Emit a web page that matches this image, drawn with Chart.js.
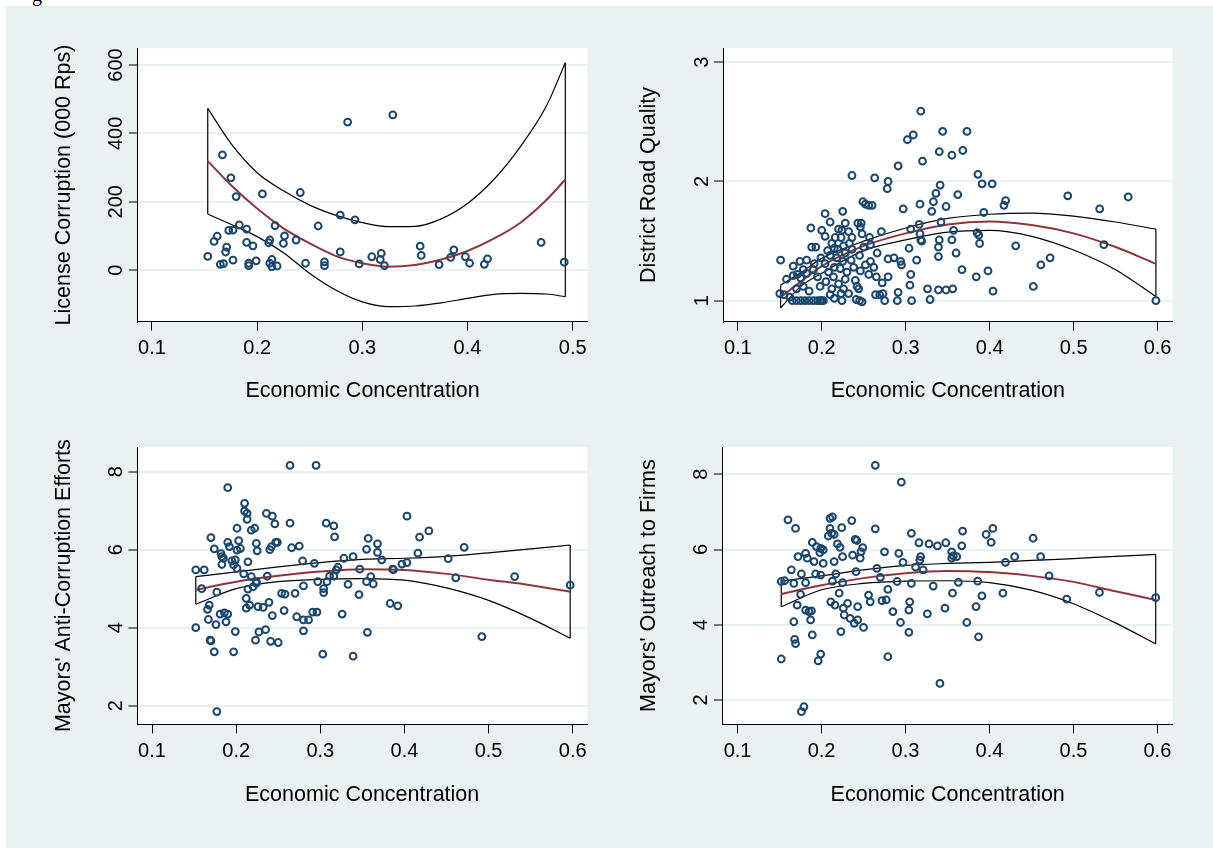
<!DOCTYPE html>
<html>
<head>
<meta charset="utf-8">
<script src="https://cdn.jsdelivr.net/npm/chart.js@4.4.1/dist/chart.umd.min.js"></script>
<style>
  body { margin: 0; background: #fff; width: 1213px; height: 848px; overflow: hidden; position: relative; }
  #bg { position: absolute; left: 6px; top: 6px; right: 0; bottom: 0; background: #eaf1f3; }
  #cap { position: absolute; left: 32px; top: -16px; font: 20px/20px "Liberation Serif", serif; color: #000; }
  canvas { position: absolute; }
</style>
</head>
<body>
<div id="bg"></div>
<div id="cap">g</div>
<canvas id="c1" width="600" height="424" style="left:0;top:0"></canvas>
<canvas id="c2" width="613" height="424" style="left:600px;top:0"></canvas>
<canvas id="c3" width="600" height="424" style="left:0;top:424px"></canvas>
<canvas id="c4" width="613" height="424" style="left:600px;top:424px"></canvas>
<script>
// ---- data ----
const licX = [0.167,0.175,0.180,0.205,0.241,0.286,0.329,0.279,0.293,0.258,0.217,0.183,0.190,0.173,0.177,0.162,0.159,0.171,0.170,0.153,
  0.165,0.168,0.177,0.190,0.196,0.192,0.192,0.199,0.211,0.212,0.226,0.225,0.237,0.214,0.212,0.214,0.219,0.246,0.264,0.264,
  0.279,0.297,0.309,0.318,0.317,0.321,0.355,0.356,0.373,0.384,0.387,0.398,0.402,0.416,0.419,0.470,0.492];
const licY = [337,270,215,223,227,433,454,161,147,129,130,132,120,116,117,99,84,67,53,40,
  17,19,29,81,71,20,13,27,80,88,100,78,88,31,20,10,12,20,24,13,
  53,18,39,49,31,13,70,43,16,37,59,39,20,17,33,81,23];
const licGridX = [0.153,0.175,0.2,0.225,0.25,0.275,0.3,0.325,0.35,0.375,0.4,0.425,0.45,0.475,0.493];
const licFit = [319,249,180,122,78,41,20,10,15,31,56,92,138,205,265];
const licHi = [473,371,285,232,190,160,139,127,128,150,195,265,360,480,607];
const licLo = [164,134,98,51,-10,-59,-93,-107,-105,-96,-83,-71,-68,-70,-78];

const roadX = [0.318,0.302,0.309,0.344,0.373,0.340,0.355,0.368,0.320,0.291,0.236,0.263,0.279,0.278,0.386,0.391,0.403,0.341,0.336,0.362,
  0.493,0.565,0.419,0.417,0.333,0.348,0.317,0.331,0.297,0.393,0.531,0.249,0.252,0.256,0.260,0.204,0.225,0.210,0.228,0.243,
  0.247,0.187,0.200,0.204,0.220,0.224,0.271,0.316,0.306,0.342,0.357,0.385,0.387,0.317,0.318,0.319,0.340,0.355,0.388,0.431,
  0.536,0.339,0.339,0.304,0.360,0.313,0.279,0.286,0.294,0.295,0.266,0.472,0.461,0.367,0.398,0.384,0.306,0.305,0.326,0.339,
  0.348,0.356,0.452,0.404,0.291,0.329,0.307,0.290,0.275,0.598,0.256,0.265,0.272,0.279,0.264,0.269,0.241,0.245,0.248,0.224,
  0.215,0.223,0.240,0.242,0.244,0.151,0.150,0.158,0.166,0.171,0.174,0.182,0.188,0.193,0.199,0.191,0.165,0.170,0.175,0.180,
  0.185,0.190,0.195,0.198,0.200,0.202,0.246,0.223,0.232,0.236,0.248,0.257,0.216,0.212,0.215,0.219,0.233,0.258,0.204,0.166,
  0.175,0.182,0.190,0.155,0.162,0.198,0.212,0.226,0.232,0.273,0.210,0.218,0.228,0.235,0.245,0.252,0.222,0.230,0.246,0.214,
  0.228,0.205,0.220,0.210,0.185,0.178,0.195,0.258,0.262,0.236,0.250,0.226,0.207,0.178,0.170,0.208,0.238,0.225,0.215];
const roadY = [2.59,2.35,2.39,2.42,2.42,2.25,2.22,2.26,2.17,2.13,2.05,2.03,2.00,1.94,2.06,1.98,1.98,1.97,1.90,1.89,
  1.88,1.87,1.84,1.80,1.83,1.79,1.81,1.75,1.77,1.74,1.77,1.83,1.81,1.80,1.80,1.73,1.75,1.66,1.65,1.65,
  1.65,1.61,1.59,1.54,1.60,1.59,1.58,1.64,1.60,1.66,1.59,1.57,1.55,1.56,1.51,1.50,1.51,1.51,1.48,1.46,
  1.47,1.45,1.37,1.44,1.40,1.34,1.35,1.36,1.33,1.30,1.40,1.36,1.30,1.26,1.25,1.20,1.22,1.13,1.10,1.09,
  1.09,1.10,1.12,1.08,1.07,1.01,1.00,1.00,1.00,1.00,1.22,1.20,1.15,1.20,1.05,1.05,1.01,1.00,0.99,1.00,
  1.02,1.06,1.17,1.12,1.10,1.34,1.06,1.18,1.29,1.22,1.33,1.34,1.45,1.45,1.36,1.31,1.00,1.00,1.00,1.00,
  1.00,1.00,1.00,1.00,1.00,1.00,1.62,1.53,1.58,1.53,1.56,1.53,1.53,1.48,1.44,1.43,1.48,1.47,1.31,1.21,
  1.19,1.23,1.26,1.05,1.03,1.12,1.10,1.10,1.06,1.06,1.38,1.36,1.40,1.34,1.38,1.30,1.27,1.24,1.25,1.20,
  1.18,1.16,1.14,1.05,1.08,1.12,1.20,1.33,1.28,1.43,1.45,1.46,1.42,1.26,1.10,1.24,1.28,1.33,1.28];
const roadGridX = [0.151,0.175,0.2,0.25,0.3,0.35,0.4,0.45,0.5,0.55,0.598];
const roadFit = [1.03,1.16,1.29,1.46,1.565,1.64,1.665,1.635,1.565,1.45,1.31];
const roadHi = [1.13,1.235,1.355,1.50,1.61,1.69,1.725,1.735,1.71,1.66,1.60];
const roadLo = [0.94,1.12,1.23,1.42,1.51,1.575,1.59,1.54,1.425,1.26,1.035];

const antiX = [0.264,0.295,0.190,0.210,0.210,0.213,0.213,0.236,0.243,0.246,0.264,0.307,0.201,0.218,0.222,0.170,0.190,0.203,0.174,0.192,
  0.201,0.205,0.224,0.225,0.240,0.242,0.247,0.249,0.266,0.275,0.182,0.183,0.183,0.185,0.195,0.199,0.197,0.201,0.214,0.279,
  0.293,0.152,0.162,0.209,0.218,0.224,0.237,0.159,0.177,0.214,0.220,0.224,0.254,0.258,0.270,0.280,0.297,0.304,0.304,0.212,
  0.168,0.166,0.212,0.216,0.226,0.232,0.239,0.257,0.167,0.181,0.186,0.190,0.188,0.176,0.243,0.272,0.280,0.286,0.291,0.296,
  0.280,0.152,0.199,0.227,0.235,0.169,0.170,0.223,0.241,0.250,0.174,0.197,0.303,0.177,
  0.316,0.317,0.403,0.418,0.429,0.357,0.368,0.355,0.368,0.373,0.328,0.339,0.416,0.452,0.471,0.321,0.319,0.316,0.311,0.347,
  0.360,0.355,0.363,0.386,0.387,0.397,0.403,0.461,0.531,0.597,0.308,0.333,0.346,0.383,0.392,0.326,0.356,0.492,0.339];
const antiY = [8.16,8.16,7.59,7.19,6.99,6.93,6.78,6.93,6.86,6.66,6.68,6.68,6.55,6.50,6.55,6.31,6.19,6.23,6.02,6.08,
  5.99,6.03,6.16,5.97,6.00,6.08,6.19,6.19,6.05,6.09,5.90,5.82,5.62,5.78,5.71,5.74,5.61,5.52,5.69,5.71,
  5.65,5.48,5.48,5.38,5.31,5.18,5.32,5.00,4.91,4.99,5.05,5.14,4.88,4.86,4.88,5.07,5.18,5.00,4.90,4.75,
  4.58,4.47,4.50,4.58,4.54,4.52,4.65,4.44,4.21,4.35,4.38,4.35,4.15,4.08,4.31,4.28,4.20,4.20,4.40,4.40,
  3.92,4.00,3.90,3.89,3.95,3.68,3.66,3.68,3.65,3.62,3.38,3.38,3.32,1.85,
  6.61,6.33,6.86,6.32,6.48,6.29,6.15,6.01,5.93,5.74,5.78,5.82,5.91,5.77,6.06,5.55,5.48,5.32,5.32,5.50,
  5.31,5.18,5.12,5.50,5.49,5.63,5.67,5.28,5.31,5.09,5.18,5.11,4.85,4.62,4.56,4.35,3.88,3.77,3.27];
const antiGridX = [0.152,0.2,0.25,0.3,0.35,0.4,0.45,0.5,0.55,0.597];
const antiFit = [4.97,5.18,5.33,5.44,5.50,5.48,5.38,5.23,5.09,4.92];
const antiHi = [5.31,5.43,5.56,5.67,5.75,5.78,5.83,5.92,6.02,6.12];
const antiLo = [4.60,5.00,5.18,5.24,5.26,5.22,5.02,4.70,4.24,3.73];

const outX = [0.264,0.295,0.160,0.169,0.210,0.213,0.210,0.212,0.208,0.215,0.224,0.236,0.264,0.307,0.189,0.194,0.199,0.202,0.198,0.219,
  0.222,0.240,0.242,0.249,0.247,0.246,0.275,0.292,0.172,0.181,0.183,0.191,0.202,0.225,0.237,0.215,0.297,0.164,0.176,0.193,
  0.199,0.217,0.241,0.266,0.152,0.156,0.167,0.181,0.213,0.225,0.270,0.290,0.307,0.175,0.221,0.256,0.258,0.279,0.277,0.272,
  0.171,0.211,0.216,0.231,0.243,0.305,0.304,0.181,0.185,0.188,0.187,0.226,0.227,0.234,0.239,0.243,0.250,0.285,0.294,0.304,
  0.167,0.189,0.168,0.169,0.223,0.199,0.196,0.152,0.279,0.179,0.176,
  0.316,0.328,0.338,0.348,0.368,0.367,0.396,0.404,0.402,0.452,0.355,0.357,0.361,0.355,0.318,0.317,0.312,0.321,0.419,0.430,
  0.461,0.471,0.333,0.363,0.386,0.356,0.391,0.416,0.492,0.531,0.598,0.326,0.347,0.384,0.373,0.387,0.341];
const outY = [8.24,7.79,6.79,6.56,6.83,6.87,6.56,6.43,6.36,6.40,6.58,6.77,6.55,6.43,6.19,6.08,6.03,5.99,5.92,6.15,
  6.06,6.27,6.24,6.05,5.94,5.77,5.94,5.90,5.81,5.90,5.77,5.68,5.63,5.81,5.85,5.68,5.66,5.46,5.35,5.35,
  5.32,5.35,5.41,5.50,5.15,5.17,5.10,5.12,5.16,5.12,5.26,5.15,5.10,4.81,4.84,4.79,4.61,4.94,4.66,4.64,
  4.52,4.61,4.52,4.57,4.48,4.61,4.39,4.39,4.35,4.37,4.13,4.44,4.26,4.17,4.04,4.13,3.93,4.35,4.06,3.80,
  4.08,3.73,3.61,3.50,3.82,3.22,3.04,3.09,3.15,1.82,1.69,
  6.18,6.15,6.10,6.18,6.49,6.10,6.40,6.56,6.19,6.30,5.94,5.83,5.81,5.77,5.81,5.72,5.53,5.46,5.66,5.81,
  5.81,5.30,5.03,5.13,5.16,4.84,4.77,4.84,4.68,4.86,4.72,4.29,4.44,4.48,4.06,3.68,2.44];
const outGridX = [0.152,0.2,0.25,0.3,0.35,0.4,0.45,0.5,0.55,0.598];
const outFit = [4.82,5.05,5.24,5.37,5.43,5.40,5.30,5.14,4.89,4.66];
const outHi = [5.16,5.30,5.46,5.58,5.63,5.66,5.71,5.76,5.82,5.87];
const outLo = [4.48,4.93,5.10,5.16,5.17,5.12,4.92,4.56,4.05,3.49];

const licXTicks = [0.1,0.2,0.3,0.4,0.5];
const wideXTicks = [0.1,0.2,0.3,0.4,0.5,0.6];
const licYTicks = [0,200,400,600];
const roadYTicks = [1,2,3];
const mayorYTicks = [2,4,6,8];

// ---- drawing ----
const FONT = '"Liberation Sans", Arial, sans-serif';
const NAVY = '#1a476f';
const MAROON = '#90353b';
const GRID = '#eaf1f3';

const plotBg = {
  id: 'plotBg',
  beforeDraw(chart) {
    const { ctx, chartArea: a } = chart;
    ctx.save();
    ctx.fillStyle = '#fff';
    ctx.fillRect(a.left, a.top, a.right - a.left, a.bottom - a.top);
    ctx.restore();
  }
};

function curve(xs, ys, color, width) {
  return {
    data: xs.map((x, i) => ({ x: x, y: ys[i] })),
    showLine: true, pointRadius: 0, borderColor: color, borderWidth: width,
    cubicInterpolationMode: 'monotone', fill: false, order: 1
  };
}

function panel(id, o) {
  const cv = document.getElementById(id);
  const W = cv.width, H = cv.height;
  const n = o.gx.length - 1;
  const edge = (i) => ({
    data: [{ x: o.gx[i], y: o.lo[i] }, { x: o.gx[i], y: o.hi[i] }],
    showLine: true, pointRadius: 0, borderColor: '#000', borderWidth: 1.2, order: 1
  });
  new Chart(cv, {
    type: 'scatter',
    data: {
      datasets: [
        { data: o.px.map((x, i) => ({ x: x, y: o.py[i] })), pointRadius: 3.4, borderWidth: 2,
          borderColor: NAVY, backgroundColor: 'rgba(0,0,0,0)', order: 0 },
        curve(o.gx, o.fit, MAROON, 2),
        curve(o.gx, o.hi, '#000', 1.2),
        curve(o.gx, o.lo, '#000', 1.2),
        edge(0),
        edge(n)
      ]
    },
    options: {
      responsive: false, animation: false, events: [], devicePixelRatio: 1,
      layout: { padding: { left: 0, top: o.area[1], right: W - o.area[2], bottom: 0 } },
      plugins: { legend: { display: false }, tooltip: { enabled: false } },
      scales: {
        x: {
          type: 'linear', min: o.xr[0], max: o.xr[1],
          afterBuildTicks: (s) => { s.ticks = o.xt.map(v => ({ value: v })); },
          afterFit: (s) => { s.height = H - o.area[3]; },
          ticks: { autoSkip: false, maxRotation: 0, padding: 6, color: '#000',
                   font: { size: 20, family: FONT }, callback: (v) => v.toFixed(1) },
          grid: { drawOnChartArea: false, tickLength: 9, tickColor: '#000', tickWidth: 1 },
          border: { display: true, color: '#000', width: 1 },
          title: { display: true, text: 'Economic Concentration', color: '#000',
                   font: { size: 21.5, family: FONT }, padding: { top: 0, bottom: o.xtPad } }
        },
        y: {
          type: 'linear', min: o.yr[0], max: o.yr[1],
          afterBuildTicks: (s) => { s.ticks = o.yt.map(v => ({ value: v })); },
          afterFit: (s) => { s.width = o.area[0]; },
          ticks: { autoSkip: false, minRotation: 90, maxRotation: 90, crossAlign: 'center',
                   padding: o.ylPad, color: '#000', font: { size: 20, family: FONT } },
          grid: { color: GRID, lineWidth: 2, tickLength: 9, tickColor: '#000', tickWidth: 1 },
          border: { display: true, color: '#000', width: 1 },
          title: { display: true, text: o.title, color: '#000',
                   font: { size: 21.5, family: FONT }, padding: { top: o.ytPad, bottom: 0 } }
        }
      }
    },
    plugins: [plotBg]
  });
}

panel('c1', { px: licX, py: licY, gx: licGridX, fit: licFit, hi: licHi, lo: licLo,
  xr: [0.0865, 0.514], yr: [-151, 649], xt: licXTicks, yt: licYTicks,
  area: [137.8, 48.3, 587.4, 321.7], title: 'License Corruption (000 Rps)',
  xtPad: 20.4, ytPad: 51, ylPad: -4.7 });

panel('c2', { px: roadX, py: roadY, gx: roadGridX, fit: roadFit, hi: roadHi, lo: roadLo,
  xr: [0.0825, 0.618], yr: [0.824, 3.117], xt: wideXTicks, yt: roadYTicks,
  area: [123.1, 48.3, 572.7, 321.7], title: 'District Road Quality',
  xtPad: 20.4, ytPad: 36, ylPad: 6.4 });

panel('c3', { px: antiX, py: antiY, gx: antiGridX, fit: antiFit, hi: antiHi, lo: antiLo,
  xr: [0.0825, 0.617], yr: [1.523, 8.633], xt: wideXTicks, yt: mayorYTicks,
  area: [137.3, 23, 587, 300.3], title: "Mayors' Anti-Corruption Efforts",
  xtPad: 40, ytPad: 51, ylPad: 6.4 });

panel('c4', { px: outX, py: outY, gx: outGridX, fit: outFit, hi: outHi, lo: outLo,
  xr: [0.0825, 0.618], yr: [1.354, 8.726], xt: wideXTicks, yt: mayorYTicks,
  area: [122.9, 23, 572.5, 300.3], title: "Mayors' Outreach to Firms",
  xtPad: 40, ytPad: 36, ylPad: 6.4 });
</script>
</body>
</html>
